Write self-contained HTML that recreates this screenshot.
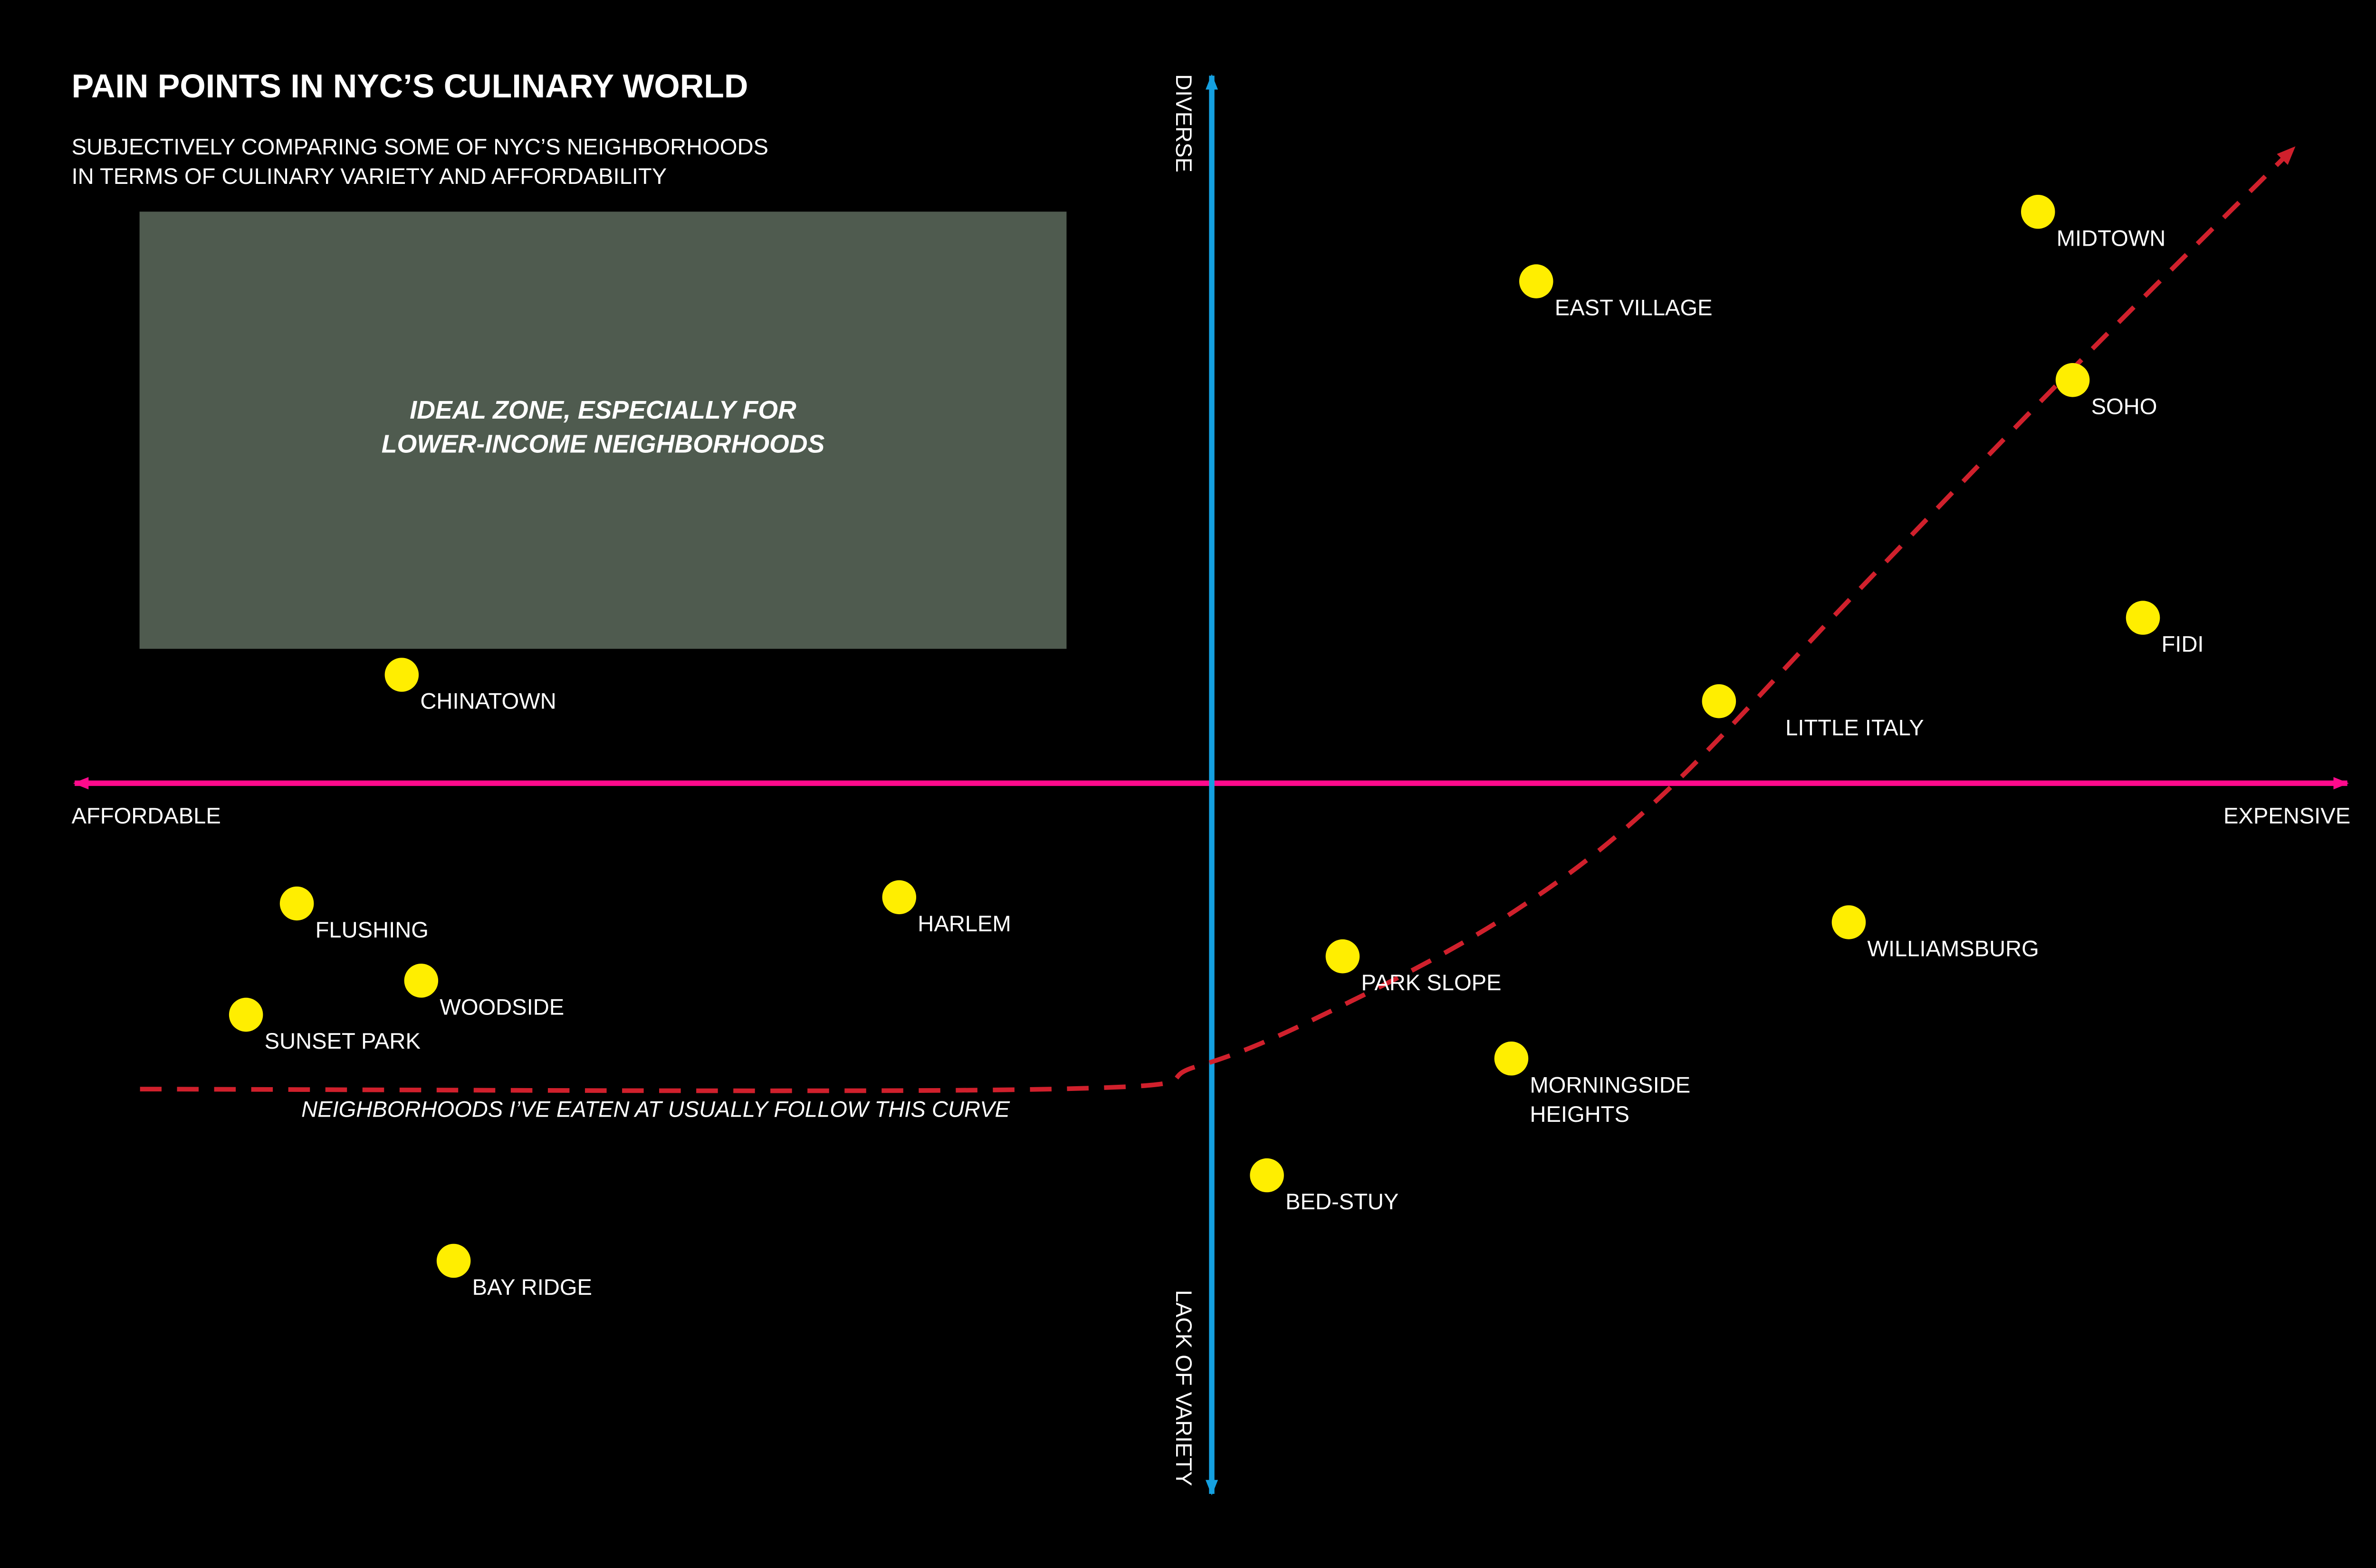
<!DOCTYPE html>
<html><head><meta charset="utf-8"><style>
html,body{margin:0;padding:0;background:#000;}
svg{display:block;}
text{font-family:"Liberation Sans",sans-serif;fill:#fff;}
</style></head><body>
<svg id="chart" width="5100" height="3300" viewBox="0 0 1568 1015" xmlns="http://www.w3.org/2000/svg">
<defs>
<marker id="pinkArrow" markerWidth="10" markerHeight="8" refX="9" refY="4" orient="auto-start-reverse" markerUnits="userSpaceOnUse"><path d="M0,0 L10,4 L0,8 z" fill="#ff0a8c"/></marker>
<marker id="blueArrow" markerWidth="10" markerHeight="8" refX="9" refY="4" orient="auto-start-reverse" markerUnits="userSpaceOnUse"><path d="M0,0 L10,4 L0,8 z" fill="#14a0e0"/></marker>
<marker id="redArrow" markerWidth="12" markerHeight="10" refX="10" refY="5" orient="auto" markerUnits="userSpaceOnUse"><path d="M0,0 L12,5 L0,10 z" fill="#d0202c"/></marker>
</defs>
<rect width="1568" height="1015" fill="#000"/>
<text x="46" y="63" font-size="21.5" font-weight="bold">PAIN POINTS IN NYC’S CULINARY WORLD</text>
<text x="46" y="100" font-size="14.5">SUBJECTIVELY COMPARING SOME OF NYC’S NEIGHBORHOODS</text>
<text x="46" y="119" font-size="14.5">IN TERMS OF CULINARY VARIETY AND AFFORDABILITY</text>
<rect x="90" y="137" width="600" height="283" fill="#4f5b4f"/>
<text x="390" y="271" font-size="16.5" font-weight="bold" font-style="italic" text-anchor="middle">IDEAL ZONE, ESPECIALLY FOR</text>
<text x="390" y="293" font-size="16.5" font-weight="bold" font-style="italic" text-anchor="middle">LOWER-INCOME NEIGHBORHOODS</text>
<line x1="48" y1="507" x2="1519" y2="507" stroke="#ff0a8c" stroke-width="3.5" marker-start="url(#pinkArrow)" marker-end="url(#pinkArrow)"/>
<line x1="784" y1="49" x2="784" y2="967" stroke="#14a0e0" stroke-width="3.5" marker-start="url(#blueArrow)" marker-end="url(#blueArrow)"/>
<text x="46" y="533" font-size="14.5">AFFORDABLE</text>
<text x="1521" y="533" font-size="14.5" text-anchor="end">EXPENSIVE</text>
<text transform="translate(761,48) rotate(90)" font-size="14.5">DIVERSE</text>
<text transform="translate(761,835) rotate(90)" font-size="14.5">LACK OF VARIETY</text>
<g id="curveLayer"></g>
<text x="424" y="723" font-size="14.5" font-style="italic" text-anchor="middle">NEIGHBORHOODS I’VE EATEN AT USUALLY FOLLOW THIS CURVE</text>
<g id="pointLayer"></g>
</svg>
<script>
const names = ["CHINATOWN","FLUSHING","HARLEM","WOODSIDE","SUNSET PARK","BAY RIDGE","BED-STUY","PARK SLOPE","MORNINGSIDE|HEIGHTS","WILLIAMSBURG","LITTLE ITALY","FIDI","SOHO","EAST VILLAGE","MIDTOWN"];
const cost = [-7.49,-8.46,-2.89,-7.31,-8.93,-7.01,0.51,1.21,2.77,5.89,4.69,8.61,7.96,3.0,7.64];
const variety = [1.56,-1.73,-1.64,-2.84,-3.33,-6.87,-5.64,-2.49,-3.96,-2.0,1.18,2.38,5.8,7.22,8.22];
const curveX = [-9.91,-1.49,-0.13,1.23,2.8,4.16,5.94,7.94,10.0];
const curveY = [-4.4,-4.4,-4.07,-3.18,-1.84,-0.18,2.71,5.93,9.13];

const NS = "http://www.w3.org/2000/svg";
function xs(v){ return 784 + v*70; }
function ys(v){ return 507 - v*45; }

// curve (catmull-rom)
const pts = curveX.map((x,i)=>[xs(x), ys(curveY[i])]);
let d = "M"+pts[0][0]+","+pts[0][1];
for(let i=0;i<pts.length-1;i++){
  const p0=pts[Math.max(0,i-1)], p1=pts[i], p2=pts[i+1], p3=pts[Math.min(pts.length-1,i+2)];
  const c1=[p1[0]+(p2[0]-p0[0])/6, p1[1]+(p2[1]-p0[1])/6];
  const c2=[p2[0]-(p3[0]-p1[0])/6, p2[1]-(p3[1]-p1[1])/6];
  d += " C"+c1[0]+","+c1[1]+" "+c2[0]+","+c2[1]+" "+p2[0]+","+p2[1];
}
const path = document.createElementNS(NS,"path");
path.setAttribute("d", d);
path.setAttribute("fill","none");
path.setAttribute("stroke","#d0202c");
path.setAttribute("stroke-width","3");
path.setAttribute("stroke-dasharray","14 10");
path.setAttribute("marker-end","url(#redArrow)");


document.getElementById("curveLayer").appendChild(path);

const layer = document.getElementById("pointLayer");
names.forEach((n,i)=>{
  const cx = xs(cost[i]), cy = ys(variety[i]);
  const c = document.createElementNS(NS,"circle");
  c.setAttribute("cx",cx); c.setAttribute("cy",cy); c.setAttribute("r","11");
  c.setAttribute("fill","#ffee00");
  
  
  layer.appendChild(c);
  const lines = n.split("|");
  const dx = n==="LITTLE ITALY" ? 43 : 12;
  lines.forEach((ln,j)=>{
    const t = document.createElementNS(NS,"text");
    t.setAttribute("x", cx+dx);
    t.setAttribute("y", cy+22+j*19);
    t.setAttribute("font-size","14.5");
    t.textContent = ln;
    
    
    layer.appendChild(t);
  });
});
</script>
</body></html>
